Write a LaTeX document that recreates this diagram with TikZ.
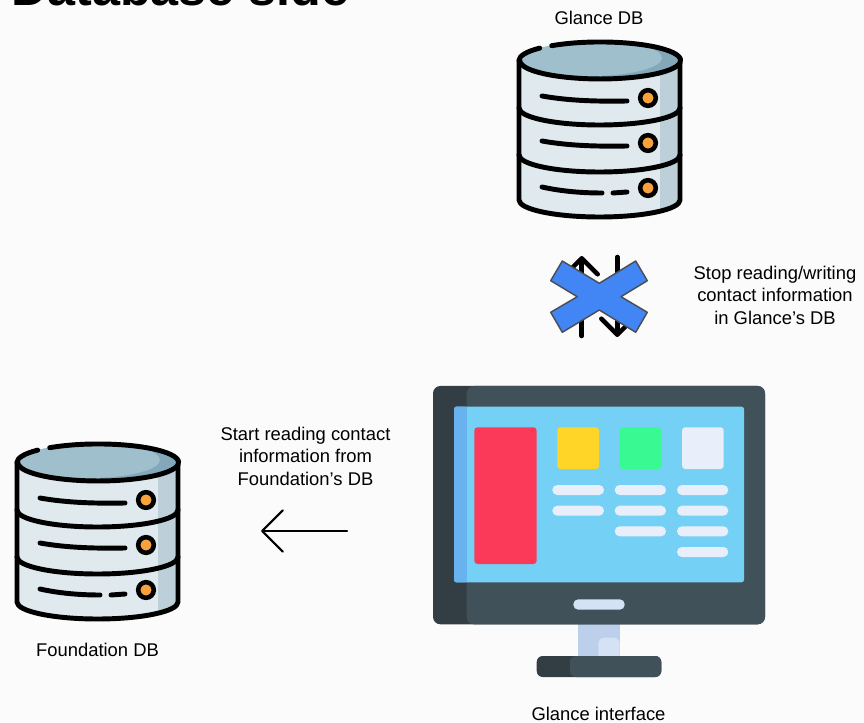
\documentclass[tikz,border=0pt]{standalone}
\usepackage{fontspec}
\setmainfont{Liberation Sans}
\usetikzlibrary{arrows.meta}
\definecolor{pagebg}{HTML}{FBFBFB}
\definecolor{dbbody}{HTML}{DFE9EE}
\definecolor{dbshade}{HTML}{BDD0D9}
\definecolor{dbtop}{HTML}{A0BFCD}
\definecolor{dbtopd}{HTML}{82A8BA}
\definecolor{dbdot}{HTML}{F9A13A}
\definecolor{crossblue}{HTML}{4285F4}
\definecolor{crossedge}{HTML}{4A4F55}
\definecolor{mondark}{HTML}{333E44}
\definecolor{monmain}{HTML}{40515A}
\definecolor{screen}{HTML}{74D1F5}
\definecolor{screenl}{HTML}{68B2F0}
\definecolor{tilered}{HTML}{FB3A5A}
\definecolor{tileyel}{HTML}{FFD527}
\definecolor{tilegrn}{HTML}{38F992}
\definecolor{tilewht}{HTML}{E8EFFB}
\definecolor{standa}{HTML}{BCD0EC}
\definecolor{standb}{HTML}{D5E2F5}
\tikzset{
  x=0.75pt,y=-0.75pt,
  ink/.style={draw=black,line width=3.7pt,line cap=round,line join=round},
  pill/.style={fill=tilewht,rounded corners=3.7pt},
  label/.style={font=\fontsize{13.8pt}{16.9pt}\selectfont,align=center,text=black,inner sep=0pt},
  bigarrow/.style={draw=black,line width=3.4pt,line cap=round,line join=round,-{Straight Barb[length=12pt,width=24pt,round]}},
  thinarrow/.style={draw=black,line width=1.7pt,line cap=round,-{Straight Barb[length=15.5pt,width=31pt,round]}}
}
\newcommand{\dbicon}[2]{%
\begin{scope}[shift={(#1,#2)}]
  \begin{scope}
    \clip (519,61) -- (519,200) arc[start angle=180,end angle=0,x radius=80.5,y radius=17] -- (680,61) -- cycle;
    \fill[dbbody] (515,50) rectangle (690,225);
    \fill[dbshade] (660,50) rectangle (690,225);
  \end{scope}
  \draw[ink] (519,61) -- (519,200) arc[start angle=180,end angle=0,x radius=80.5,y radius=17] -- (680,61);
  \begin{scope}
    \clip (599.5,60.5) ellipse[x radius=80.5,y radius=18.5];
    \fill[dbtopd] (515,40) rectangle (690,85);
    \fill[dbtop] (590,58) ellipse[x radius=72,y radius=18];
  \end{scope}
  \draw[ink] (519,60.5) arc[start angle=180,end angle=222,x radius=80.5,y radius=18.5];
  \draw[ink] (551.7,45.7) arc[start angle=233,end angle=540,x radius=80.5,y radius=18.5];
  \draw[ink] (519,108) arc[start angle=180,end angle=0,x radius=80.5,y radius=17];
  \draw[ink] (519,155) arc[start angle=180,end angle=0,x radius=80.5,y radius=17];
  \draw[ink] (542,96) .. controls (570,101) and (600,101.5) .. (627,101);
  \draw[ink] (542,141) .. controls (570,146) and (600,146.5) .. (627,146);
  \draw[ink] (542,187) .. controls (560,191) and (580,193) .. (602,193);
  \draw[ink] (613,193) -- (627,192);
  \foreach \dy in {98,143,188}
    \draw[fill=dbdot,draw=black,line width=3.4pt] (648,\dy) circle[radius=7.8];
\end{scope}}
\begin{document}
\begin{tikzpicture}
\useasboundingbox (0,0) rectangle (864,723);
\fill[pagebg] (0,0) rectangle (864,723);

\begin{scope}
  \clip (0,0) rectangle (864,723);
  \node[anchor=base west,inner sep=0pt,font=\fontsize{37.7pt}{40pt}\selectfont\bfseries] (title) at (11,6) {Database side};
\end{scope}

\dbicon{0}{0}
\dbicon{-502}{402}

\node[label] (glancedb) at (599,18) {Glance DB};
\node[label] (foundationdb) at (97.5,650) {Foundation DB};
\node[label] (glanceui) at (598.5,714) {Glance interface};
\node[label] (stoptext) at (775,295) {Stop reading/writing\\contact information\\in Glance’s DB};
\node[label] (starttext) at (305.5,456) {Start reading contact\\information from\\Foundation’s DB};

\coordinate (upA) at (581.7,336);
\coordinate (upB) at (581.7,256);
\coordinate (downA) at (617.3,257);
\coordinate (downB) at (617.3,337);
\draw[bigarrow] (upA) -- (upB);
\draw[bigarrow] (downA) -- (downB);
\draw[fill=crossblue,draw=crossedge,line width=1.1pt,line join=round]
  (562.3,261) -- (599.3,283.3) -- (635.7,261) -- (647.3,280.7) -- (621,296.7) -- (647.3,312.3)
  -- (635.7,332.3) -- (599.3,310) -- (562.3,332.3) -- (550.7,312.3) -- (577.3,296.7) -- (550.7,280.7) -- cycle;

\coordinate (readA) at (347,531);
\coordinate (readB) at (261,531);
\draw[thinarrow] (readA) -- (readB);

\fill[standa] (578.3,620) rectangle (619.7,658);
\fill[standb] (619.7,656) -- (598.3,656) -- (598.3,644) [rounded corners=4.5pt] -- (598.3,637.7) -- (619.7,637.7) [sharp corners] -- cycle;
\fill[mondark,rounded corners=5.5pt] (433,386) rectangle (765,624.3);
\fill[monmain,rounded corners=5.5pt] (466.7,386) rectangle (765,624.3);
\fill[screen,rounded corners=1.8pt] (454,406.7) rectangle (744,582.3);
\fill[screenl,rounded corners=1.8pt] (454,406.7) rectangle (468,582.3);
\fill[screen] (466.7,406.7) rectangle (470,582.3);
\fill[tilered,rounded corners=2.4pt] (474.3,427.3) rectangle (536.7,564);
\fill[tileyel,rounded corners=2.4pt] (557.3,427.3) rectangle (599,469);
\fill[tilegrn,rounded corners=2.4pt] (619.7,427.3) rectangle (661.3,469);
\fill[tilewht,rounded corners=2.4pt] (682,427.3) rectangle (723.7,469);
\foreach \yy in {490,510.7}
  \fill[pill] (552.3,\yy-5) rectangle (604,\yy+5);
\foreach \yy in {490,510.7,531.3}
  \fill[pill] (614.7,\yy-5) rectangle (666,\yy+5);
\foreach \yy in {490,510.7,531.3,552}
  \fill[pill] (677,\yy-5) rectangle (728.3,\yy+5);
\fill[standb,rounded corners=3.7pt] (573.3,599.3) rectangle (624.7,609.7);
\fill[mondark,rounded corners=4.5pt] (536.7,656) rectangle (661.3,677);
\fill[monmain,rounded corners=4.5pt] (570,656) rectangle (661.3,677);
\end{tikzpicture}
\end{document}
